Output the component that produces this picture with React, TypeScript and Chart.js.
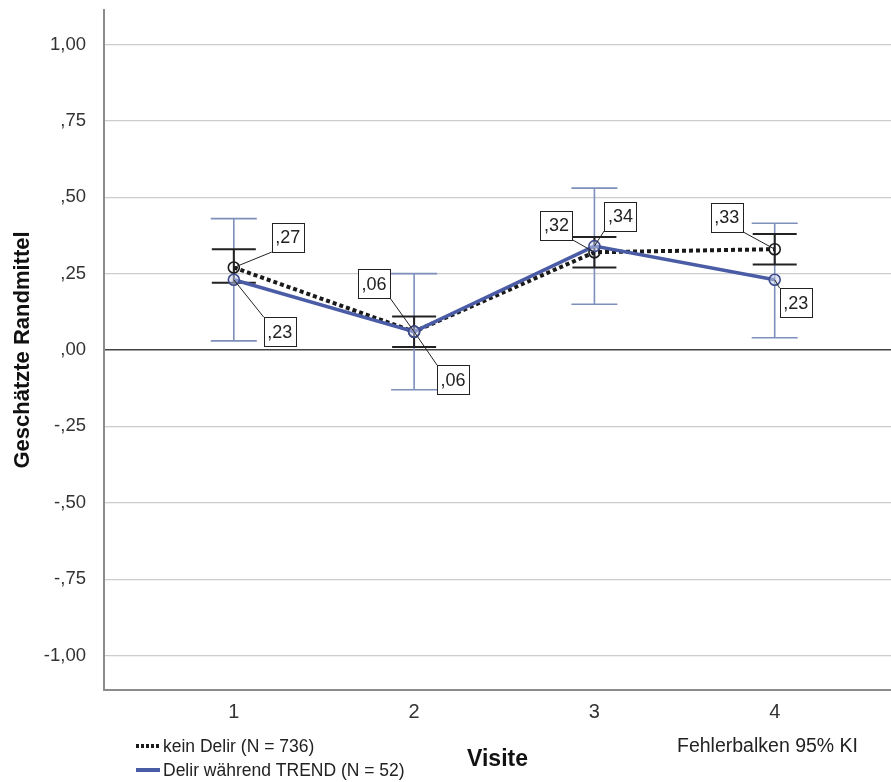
import React, { useEffect, useRef } from 'react';
import { Chart, registerables } from 'chart.js';

Chart.register(...registerables);

// ---- data ----
const visits = [1, 2, 3, 4];
const xTickLabels = ['1', '2', '3', '4'];
const seriesNames = ['kein Delir (N = 736)', 'Delir während TREND (N = 52)'];
const keinDelirMean = [0.27, 0.06, 0.32, 0.33];
const keinDelirLow = [0.22, 0.01, 0.27, 0.28];
const keinDelirHigh = [0.33, 0.11, 0.37, 0.38];
const delirMean = [0.23, 0.06, 0.34, 0.23];
const delirLow = [0.03, -0.13, 0.15, 0.04];
const delirHigh = [0.43, 0.25, 0.53, 0.415];
const yTickValues = [-1, -0.75, -0.5, -0.25, 0, 0.25, 0.5, 0.75, 1];
const yTickLabels = ['-1,00', '-,75', '-,50', '-,25', ',00', ',25', ',50', ',75', '1,00'];
const yTitle = 'Geschätzte Randmittel';
const xTitle = 'Visite';
const footNote = 'Fehlerbalken 95% KI';

// ---- styles ----
const FONT = '"Liberation Sans", Arial, sans-serif';
const BLACK = '#1a1a1a';
const BLUE = '#4b5ca6';
const BLUE_BAR = '#7d8fbb';
const LABEL_OFFSETS = [
  [[54, -30], [-40, -48], [-38, -27], [-48, -32]],
  [[46, 52], [39, 48], [26, -30], [21, 23]],
];
const BAR_STYLE = [
  { color: '#222222', width: 2, cap: 22 },
  { color: BLUE_BAR, width: 1.6, cap: 23 },
];

const fmt = (v: number) => {
  const s = Math.abs(v).toFixed(2).replace(/^0\./, ',').replace('.', ',');
  return (v < 0 ? '-' : '') + s;
};

const errorBarPlugin = {
  id: 'errorBars',
  beforeDatasetsDraw(chart: any) {
    const ctx = chart.ctx;
    const xs = chart.scales.x;
    const ys = chart.scales.y;
    const lows = [keinDelirLow, delirLow];
    const highs = [keinDelirHigh, delirHigh];
    ctx.save();
    [1, 0].forEach((d) => {
      const st = BAR_STYLE[d];
      ctx.strokeStyle = st.color;
      ctx.lineWidth = st.width;
      visits.forEach((v, i) => {
        const x = xs.getPixelForValue(v);
        const y1 = ys.getPixelForValue(lows[d][i]);
        const y2 = ys.getPixelForValue(highs[d][i]);
        ctx.beginPath();
        ctx.moveTo(x, y1);
        ctx.lineTo(x, y2);
        ctx.moveTo(x - st.cap, y1);
        ctx.lineTo(x + st.cap, y1);
        ctx.moveTo(x - st.cap, y2);
        ctx.lineTo(x + st.cap, y2);
        ctx.stroke();
      });
    });
    ctx.restore();
  },
};

const labelPlugin = {
  id: 'valueLabels',
  afterDatasetsDraw(chart: any) {
    const ctx = chart.ctx;
    const xs = chart.scales.x;
    const ys = chart.scales.y;
    const means = [keinDelirMean, delirMean];
    const bw = 32;
    const bh = 29;
    ctx.save();
    ctx.font = `18px ${FONT}`;
    ctx.textAlign = 'center';
    ctx.textBaseline = 'middle';
    means.forEach((m, d) => {
      m.forEach((val, i) => {
        const px = xs.getPixelForValue(visits[i]);
        const py = ys.getPixelForValue(val);
        const [ox, oy] = LABEL_OFFSETS[d][i];
        const cx = px + ox;
        const cy = py + oy;
        const cornerX = ox > 0 ? cx - bw / 2 : cx + bw / 2;
        const cornerY = oy > 0 ? cy - bh / 2 : cy + bh / 2;
        ctx.strokeStyle = '#222';
        ctx.lineWidth = 1;
        ctx.beginPath();
        ctx.moveTo(px, py);
        ctx.lineTo(cornerX, cornerY);
        ctx.stroke();
        ctx.fillStyle = '#ffffff';
        ctx.fillRect(cx - bw / 2, cy - bh / 2, bw, bh);
        ctx.strokeRect(Math.round(cx - bw / 2) + 0.5, Math.round(cy - bh / 2) + 0.5, bw, bh);
        ctx.fillStyle = '#222';
        ctx.fillText(fmt(val), cx, cy + 1);
      });
    });
    ctx.restore();
  },
};

const legendPlugin = {
  id: 'customLegend',
  afterDraw(chart: any) {
    const ctx = chart.ctx;
    ctx.save();
    ctx.font = `17.5px ${FONT}`;
    ctx.textBaseline = 'middle';
    ctx.fillStyle = '#222';
    // dotted sample
    ctx.strokeStyle = BLACK;
    ctx.lineWidth = 4;
    ctx.setLineDash([3, 2]);
    ctx.beginPath();
    ctx.moveTo(136, 746);
    ctx.lineTo(160, 746);
    ctx.stroke();
    ctx.setLineDash([]);
    ctx.fillText(chart.data.datasets[0].label, 163, 747);
    // solid sample
    ctx.strokeStyle = BLUE;
    ctx.lineWidth = 4;
    ctx.beginPath();
    ctx.moveTo(136, 770);
    ctx.lineTo(160, 770);
    ctx.stroke();
    ctx.fillText(chart.data.datasets[1].label, 163, 771);
    // footnote
    ctx.font = `19.5px ${FONT}`;
    ctx.fillText(footNote, 677, 747);
    ctx.restore();
  },
};

export default function App() {
  const ref = useRef<HTMLCanvasElement | null>(null);
  useEffect(() => {
    if (!ref.current) return;
    const chart = new Chart(ref.current, {
      type: 'line',
      data: {
        datasets: [
          {
            label: seriesNames[0],
            data: visits.map((v, i) => ({ x: v, y: keinDelirMean[i] })),
            borderColor: BLACK,
            borderWidth: 4,
            borderDash: [4, 3],
            pointRadius: 5.5,
            pointBorderWidth: 1.6,
            pointBorderColor: BLACK,
            pointBackgroundColor: 'rgba(255,255,255,0)',
            tension: 0,
            order: 2,
          },
          {
            label: seriesNames[1],
            data: visits.map((v, i) => ({ x: v, y: delirMean[i] })),
            borderColor: BLUE,
            borderWidth: 3.5,
            pointRadius: 5.5,
            pointBorderWidth: 1.6,
            pointBorderColor: '#3d4c8f',
            pointBackgroundColor: 'rgba(200,208,235,0.5)',
            tension: 0,
            order: 1,
          },
        ],
      },
      options: {
        animation: false,
        responsive: true,
        maintainAspectRatio: false,
        layout: { autoPadding: false, padding: { top: 10, right: 0, left: 0, bottom: 0 } },
        plugins: {
          legend: { display: false },
          tooltip: { enabled: false },
        },
        scales: {
          x: {
            type: 'linear',
            min: 0.28,
            max: 4.645,
            afterBuildTicks: (s: any) => {
              s.ticks = visits.map((v) => ({ value: v }));
            },
            afterFit: (s: any) => {
              s.height = 92;
              s.paddingLeft = 0;
              s.paddingRight = 0;
            },
            ticks: {
              callback: (v: any) => xTickLabels[visits.indexOf(Number(v))] ?? '',
              font: { family: FONT, size: 20 },
              color: '#333',
              padding: 10,
              maxRotation: 0,
            },
            grid: { display: false, drawTicks: false },
            border: { display: true, color: '#8c8c8c', width: 2 },
            title: {
              display: true,
              text: xTitle,
              font: { family: FONT, size: 23, weight: 'bold' },
              color: '#111',
              padding: { top: 0, bottom: 9 },
            },
          },
          y: {
            type: 'linear',
            min: -1.113,
            max: 1.113,
            afterBuildTicks: (s: any) => {
              s.ticks = yTickValues.map((v) => ({ value: v }));
            },
            afterFit: (s: any) => {
              s.width = 104;
              s.paddingTop = 0;
              s.paddingBottom = 0;
            },
            ticks: {
              callback: (v: any) => yTickLabels[yTickValues.indexOf(Number(v))] ?? '',
              font: { family: FONT, size: 18.5 },
              color: '#333',
              padding: 18,
            },
            grid: {
              drawTicks: false,
              color: (c: any) => (c.tick && c.tick.value === 0 ? '#444' : '#cccccc'),
              lineWidth: (c: any) => (c.tick && c.tick.value === 0 ? 1.6 : 1.2),
            },
            border: { display: true, color: '#8c8c8c', width: 2 },
            title: {
              display: true,
              text: yTitle,
              font: { family: FONT, size: 22, weight: 'bold' },
              color: '#111',
              padding: { top: 10, bottom: 0 },
            },
          },
        },
      },
      plugins: [errorBarPlugin, labelPlugin, legendPlugin],
    } as any);
    return () => chart.destroy();
  }, []);
  return (
    <div style={{ position: 'absolute', left: 0, top: 0, width: 891, height: 782, background: '#fff' }}>
      <canvas ref={ref} />
    </div>
  );
}
